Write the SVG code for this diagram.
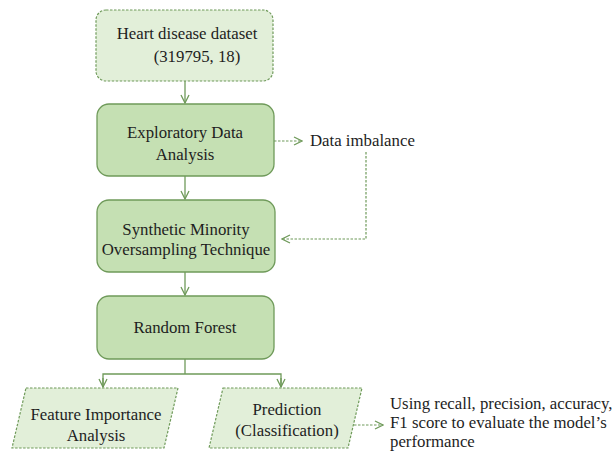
<svg xmlns="http://www.w3.org/2000/svg" width="614" height="452" viewBox="0 0 614 452">
<style>
.t{font-family:"Liberation Serif","Times New Roman",serif;font-size:16.8px;fill:#1e1e1e;}
.m{text-anchor:middle;}
.solid{fill:#c5e0b3;stroke:#6f9a5a;stroke-width:1.3;}
.dash{fill:#e2efd9;stroke:#6f9a5a;stroke-width:1.2;stroke-dasharray:2.5,1.5;}
.c{fill:none;stroke:#6f9a5a;stroke-width:1.3;}
.cd{fill:none;stroke:#6f9a5a;stroke-width:1.2;stroke-dasharray:2.5,1.5;}
</style>
<defs>
<marker id="ah" viewBox="0 0 10 10" refX="9" refY="5" markerWidth="10" markerHeight="10" markerUnits="userSpaceOnUse" orient="auto">
<polyline points="1,1 9,5 1,9" fill="none" stroke="#6f9a5a" stroke-width="1.3"/>
</marker>
</defs>
<rect width="614" height="452" fill="#ffffff"/>
<g id="connectors">
<line class="c" x1="185" y1="81" x2="185" y2="103" marker-end="url(#ah)"/>
<line class="c" x1="185" y1="176" x2="185" y2="199" marker-end="url(#ah)"/>
<line class="c" x1="185" y1="272" x2="185" y2="295" marker-end="url(#ah)"/>
<polyline class="c" points="185,359 185,374"/>
<polyline class="c" points="103,387 103,374 281,374 281,387"/>
<line class="c" x1="103" y1="378" x2="103" y2="387" marker-end="url(#ah)"/>
<line class="c" x1="281" y1="378" x2="281" y2="387" marker-end="url(#ah)"/>
<line class="cd" x1="274" y1="141" x2="302" y2="141" marker-end="url(#ah)"/>
<polyline class="cd" points="366,152 366,239 282,239" marker-end="url(#ah)"/>
<line class="cd" x1="354" y1="425" x2="383" y2="425" marker-end="url(#ah)"/>
</g>
<g id="dataset">
<rect class="dash" x="96" y="10" width="177" height="71" rx="10"/>
<text class="t m" x="187" y="39">Heart disease dataset</text>
<text class="t m" x="197" y="62">(319795, 18)</text>
</g>
<g id="eda">
<rect class="solid" x="97" y="104" width="177" height="72" rx="12"/>
<text class="t m" x="185" y="138">Exploratory Data</text>
<text class="t m" x="185" y="160">Analysis</text>
</g>
<g id="imbalance">
<text class="t" x="310" y="146">Data imbalance</text>
</g>
<g id="smote">
<rect class="solid" x="97" y="200" width="178" height="72" rx="12"/>
<text class="t m" x="186" y="235">Synthetic Minority</text>
<text class="t m" x="186" y="255">Oversampling Technique</text>
</g>
<g id="rf">
<rect class="solid" x="97" y="296" width="177" height="63" rx="12"/>
<text class="t m" x="185" y="333">Random Forest</text>
</g>
<g id="feature">
<polygon class="dash" points="26,388 178,388 164,448 12,448"/>
<text class="t m" x="96" y="420">Feature Importance</text>
<text class="t m" x="96" y="441">Analysis</text>
</g>
<g id="prediction">
<polygon class="dash" points="223,388 362,388 348,448 209,448"/>
<text class="t m" x="287" y="415">Prediction</text>
<text class="t m" x="287" y="436">(Classification)</text>
</g>
<g id="metrics">
<text class="t" x="390" y="409">Using recall, precision, accuracy,</text>
<text class="t" x="390" y="428">F1 score to evaluate the model’s</text>
<text class="t" x="390" y="447">performance</text>
</g>
</svg>
